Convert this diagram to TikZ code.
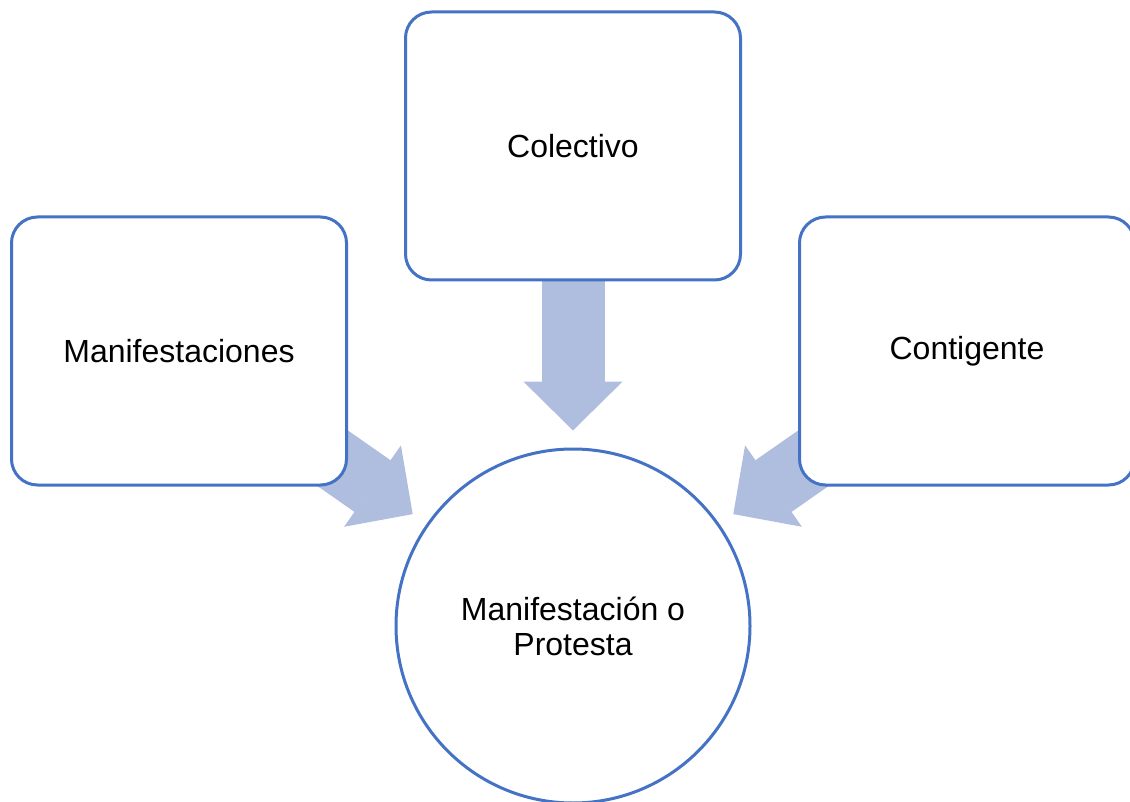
\documentclass[tikz,border=0pt]{standalone}
\usepackage{fontspec}
\setmainfont{Liberation Sans}
\usetikzlibrary{arrows.meta}
\definecolor{boxblue}{RGB}{68,114,196}
\definecolor{arrowblue}{RGB}{175,189,223}
\pgfdeclarelayer{background}
\pgfsetlayers{background,main}

\begin{document}
\begin{tikzpicture}[x=1pt, y=-1pt,
		box/.style={draw=boxblue, line width=3pt, fill=white, rounded corners=26pt,
			minimum width=335pt, minimum height=268pt, inner sep=0pt,
			font=\fontsize{32}{35}\selectfont, align=center},
		goal/.style={box, circle, sharp corners, minimum size=354pt},
		bigarrow/.style={draw=arrowblue, line width=63pt,
			-{Triangle[length=49pt, width=99pt, line width=1.5pt]}, shorten >=17pt}]
		\useasboundingbox (0,0) rectangle (1130,802);
		% boxes
		\node[box] (colectivo) at (573,146) {Colectivo};
		\node[box] (manif) at (179,351) {Manifestaciones};
		\node[box] (contig) at (967,351) {Contigente};
		\node[goal] (protesta) at (573,626) {Manifestación o\\Protesta};
		% arrows behind the boxes
		\begin{pgfonlayer}{background}
			\draw[bigarrow] (colectivo.center) -- (protesta);
			\draw[bigarrow] (manif.center) -- (protesta);
			\draw[bigarrow] (contig.center) -- (protesta);
		\end{pgfonlayer}
	\end{tikzpicture}
\end{document}
